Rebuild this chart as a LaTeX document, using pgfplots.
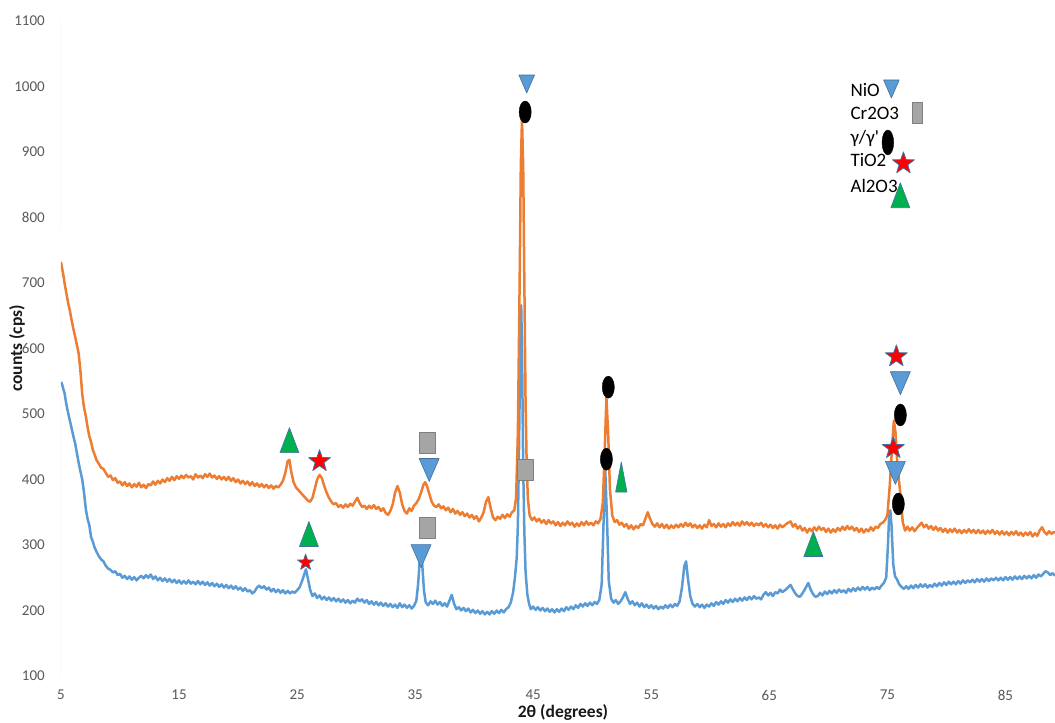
\documentclass[border=0pt]{standalone}
\usepackage{fontspec}
\setmainfont{Carlito}
\usepackage{pgfplots}
\usepackage{pgfplotstable}
\pgfplotsset{compat=1.18}
\definecolor{xorange}{HTML}{ED7D31}
\definecolor{xblue}{HTML}{5B9BD5}
\definecolor{xblueedge}{HTML}{41719C}
\definecolor{xgreen}{HTML}{00B050}
\definecolor{xgray}{HTML}{A5A5A5}
\definecolor{xgrayedge}{HTML}{7F7F7F}
\definecolor{tickgray}{HTML}{595959}
\definecolor{axgray}{HTML}{D0D0D0}

\pgfdeclareplotmark{dtri}{%
 \pgfpathmoveto{\pgfqpoint{-0.87\pgfplotmarksize}{\pgfplotmarksize}}%
 \pgfpathlineto{\pgfqpoint{0.87\pgfplotmarksize}{\pgfplotmarksize}}%
 \pgfpathlineto{\pgfqpoint{0pt}{-\pgfplotmarksize}}%
 \pgfpathclose\pgfusepathqfillstroke}
\pgfdeclareplotmark{utri}{%
 \pgfpathmoveto{\pgfqpoint{-0.76\pgfplotmarksize}{-\pgfplotmarksize}}%
 \pgfpathlineto{\pgfqpoint{0.76\pgfplotmarksize}{-\pgfplotmarksize}}%
 \pgfpathlineto{\pgfqpoint{0pt}{\pgfplotmarksize}}%
 \pgfpathclose\pgfusepathqfillstroke}
\pgfdeclareplotmark{rrect}{%
 \pgfsetcornersarced{\pgfqpoint{3bp}{3bp}}%
 \pgfpathrectanglecorners{\pgfqpoint{-0.76\pgfplotmarksize}{-\pgfplotmarksize}}{\pgfqpoint{0.76\pgfplotmarksize}{\pgfplotmarksize}}%
 \pgfusepathqfillstroke}
\pgfdeclareplotmark{ellip}{%
 \pgfpathellipse{\pgfpointorigin}{\pgfqpoint{0.55\pgfplotmarksize}{0pt}}{\pgfqpoint{0pt}{\pgfplotmarksize}}%
 \pgfusepathqfillstroke}
\pgfdeclareplotmark{fstar}{%
 \pgfpathmoveto{\pgfqpoint{0pt}{1.05\pgfplotmarksize}}%
 \pgfpathlineto{\pgfqpoint{-0.2351\pgfplotmarksize}{0.3736\pgfplotmarksize}}%
 \pgfpathlineto{\pgfqpoint{-0.9511\pgfplotmarksize}{0.359\pgfplotmarksize}}%
 \pgfpathlineto{\pgfqpoint{-0.3804\pgfplotmarksize}{-0.0736\pgfplotmarksize}}%
 \pgfpathlineto{\pgfqpoint{-0.5878\pgfplotmarksize}{-0.759\pgfplotmarksize}}%
 \pgfpathlineto{\pgfqpoint{0pt}{-0.35\pgfplotmarksize}}%
 \pgfpathlineto{\pgfqpoint{0.5878\pgfplotmarksize}{-0.759\pgfplotmarksize}}%
 \pgfpathlineto{\pgfqpoint{0.3804\pgfplotmarksize}{-0.0736\pgfplotmarksize}}%
 \pgfpathlineto{\pgfqpoint{0.9511\pgfplotmarksize}{0.359\pgfplotmarksize}}%
 \pgfpathlineto{\pgfqpoint{0.2351\pgfplotmarksize}{0.3736\pgfplotmarksize}}%
 \pgfpathclose\pgfusepathqfillstroke}

\pgfplotstableread{
x y
5.0 732
5.1 722
5.2 712
5.3 700
5.45 685
5.6 670
5.75 658
5.9 643
6.05 630
6.2 618
6.35 605
6.5 592
6.65 565
6.8 530
6.95 510
7.1 497
7.25 480
7.4 466
7.55 457
7.7 445
7.85 438
8.0 430
8.2 424
8.4 418
8.6 416
8.8 410
9.0 404
9.2 406
9.4 399
9.6 402
9.8 395
10.0 397
10.2 391
10.4 396
10.6 390
10.8 394
11.0 388
11.2 393
11.4 389
11.6 395
11.8 388
12.0 392
12.2 387
12.4 393
12.6 391
12.8 397
13.0 392
13.2 398
13.4 394
13.6 400
13.8 396
14.0 402
14.2 398
14.4 404
14.6 399
14.8 405
15.0 401
15.2 406
15.4 402
15.6 407
15.8 403
16.0 405
16.2 400
16.4 408
16.6 403
16.8 406
17.0 402
17.2 408
17.4 404
17.6 409
17.8 403
18.0 406
18.2 401
18.4 405
18.6 400
18.8 404
19.0 399
19.2 404
19.4 398
19.6 402
19.8 396
20.0 400
20.2 394
20.4 398
20.6 393
20.8 397
21.0 391
21.2 396
21.4 390
21.6 394
21.8 389
22.0 393
22.2 388
22.4 392
22.6 387
22.8 391
23.0 386
23.2 390
23.4 388
23.6 392
23.8 398
24.0 410
24.2 428
24.35 430
24.5 412
24.7 396
24.9 388
25.1 384
25.3 380
25.5 376
25.7 372
25.9 368
26.1 366
26.3 372
26.5 386
26.7 400
26.9 407
27.1 402
27.3 390
27.5 380
27.7 372
27.9 366
28.1 362
28.3 364
28.5 358
28.7 361
28.9 357
29.1 362
29.3 358
29.5 363
29.7 360
29.9 366
30.1 372
30.3 364
30.5 358
30.7 360
30.9 355
31.1 360
31.3 356
31.5 361
31.7 355
31.9 358
32.1 352
32.3 356
32.5 349
32.7 346
32.9 352
33.1 362
33.3 380
33.5 390
33.7 380
33.9 362
34.1 352
34.3 348
34.5 356
34.7 352
34.9 360
35.1 364
35.3 370
35.5 380
35.7 392
35.85 396
36.0 390
36.2 378
36.4 366
36.6 360
36.8 358
37.0 362
37.2 356
37.4 359
37.6 353
37.8 357
38.0 350
38.2 355
38.4 348
38.6 352
38.8 346
39.0 350
39.2 344
39.4 348
39.6 342
39.8 346
40.0 340
40.2 344
40.4 336
40.6 342
40.8 350
41.0 366
41.2 373
41.4 356
41.6 342
41.8 338
42.0 343
42.2 340
42.4 346
42.6 341
42.8 347
43.0 343
43.2 350
43.4 353
43.55 372
43.7 470
43.85 700
43.95 880
44.05 950
44.15 880
44.25 700
44.35 520
44.45 420
44.55 370
44.7 345
44.9 338
45.1 342
45.3 336
45.5 340
45.7 334
45.9 338
46.1 332
46.3 338
46.5 333
46.7 336
46.9 330
47.1 335
47.3 329
47.5 334
47.7 330
47.9 336
48.1 331
48.3 334
48.5 328
48.7 333
48.9 329
49.1 335
49.3 330
49.5 336
49.7 331
49.9 334
50.1 330
50.3 336
50.5 333
50.7 340
50.9 365
51.05 440
51.2 525
51.35 470
51.5 385
51.7 345
51.9 335
52.1 338
52.3 331
52.5 334
52.7 328
52.9 332
53.1 325
53.3 330
53.5 324
53.7 329
53.9 326
54.1 332
54.3 330
54.5 340
54.7 350
54.9 340
55.1 332
55.3 328
55.5 333
55.7 327
55.9 332
56.1 326
56.3 331
56.5 325
56.7 330
56.9 326
57.1 331
57.3 327
57.5 332
57.7 328
57.9 334
58.1 329
58.3 333
58.5 327
58.7 331
58.9 326
59.1 330
59.3 325
59.5 331
59.7 327
59.9 338
60.1 329
60.3 332
60.5 327
60.7 333
60.9 328
61.1 332
61.3 327
61.5 333
61.7 329
61.9 335
62.1 330
62.3 334
62.5 329
62.7 336
62.9 331
63.1 335
63.3 330
63.5 334
63.7 329
63.9 333
64.1 330
64.3 334
64.5 328
64.7 332
64.9 327
65.1 331
65.3 326
65.5 330
65.7 325
65.9 331
66.1 327
66.5 333
66.8 336
67.0 328
67.2 332
67.4 325
67.6 329
67.8 322
68.0 326
68.2 319
68.4 325
68.6 321
68.8 327
69.0 322
69.2 328
69.4 323
69.6 326
69.8 320
70.0 325
70.2 319
70.4 324
70.6 320
70.8 326
71.0 322
71.2 328
71.4 323
71.6 329
71.8 324
72.0 328
72.2 322
72.4 326
72.6 320
72.8 325
73.0 319
73.2 324
73.4 321
73.6 327
73.8 322
74.0 328
74.2 326
74.4 332
74.6 334
74.8 338
75.0 345
75.2 390
75.4 450
75.55 490
75.7 470
75.85 420
76.0 395
76.15 370
76.3 335
76.5 322
76.7 328
76.9 322
77.1 327
77.3 321
77.5 326
77.7 330
77.9 334
78.1 327
78.3 331
78.5 325
78.7 329
78.9 323
79.1 328
79.3 322
79.5 326
79.7 320
79.9 325
80.1 319
80.3 324
80.5 320
80.7 325
80.9 319
81.1 323
81.3 318
81.5 323
81.7 319
81.9 324
82.1 319
82.3 323
82.5 318
82.7 323
82.9 318
83.1 322
83.3 317
83.5 322
83.7 318
83.9 323
84.1 317
84.3 321
84.5 316
84.7 321
84.9 316
85.1 320
85.3 315
85.5 320
85.7 316
85.9 321
86.1 315
86.3 319
86.5 314
86.7 319
86.9 315
87.1 320
87.3 313
87.5 318
87.7 314
87.9 322
88.1 327
88.3 320
88.5 316
88.7 321
88.9 317
89.1 320
89.2 318
}\orangedata

\pgfplotstableread{
x y
5.0 549
5.1 545
5.2 538
5.3 532
5.45 515
5.6 502
5.75 490
5.9 478
6.05 466
6.2 455
6.35 440
6.5 425
6.65 412
6.8 400
6.95 380
7.1 355
7.25 340
7.4 330
7.55 312
7.7 305
7.85 296
8.0 290
8.2 283
8.4 278
8.6 275
8.8 268
9.0 264
9.2 262
9.4 258
9.6 260
9.8 254
10.0 256
10.2 250
10.4 253
10.6 248
10.8 252
11.0 247
11.2 251
11.4 246
11.6 250
11.8 253
12.0 249
12.2 254
12.4 250
12.6 255
12.8 248
13.0 252
13.2 246
13.4 250
13.6 245
13.8 249
14.0 244
14.2 248
14.4 243
14.6 247
14.8 242
15.0 246
15.2 241
15.4 245
15.6 241
15.8 246
16.0 241
16.2 244
16.4 240
16.6 245
16.8 240
17.0 244
17.2 239
17.4 243
17.6 238
17.8 242
18.0 237
18.2 241
18.4 236
18.6 240
18.8 235
19.0 239
19.2 234
19.4 238
19.6 233
19.8 237
20.0 232
20.2 235
20.4 230
20.6 234
20.8 229
21.0 231
21.2 226
21.4 229
21.6 235
21.8 238
22.0 234
22.2 237
22.4 232
22.6 235
22.8 229
23.0 233
23.2 228
23.4 232
23.6 227
23.8 231
24.0 226
24.2 230
24.4 226
24.6 229
24.8 227
25.0 231
25.2 235
25.4 244
25.6 255
25.75 263
25.9 250
26.1 232
26.3 222
26.5 226
26.7 219
26.9 223
27.1 217
27.3 221
27.5 216
27.7 220
27.9 215
28.1 219
28.3 214
28.5 218
28.7 213
28.9 217
29.1 212
29.3 216
29.5 211
29.7 215
29.9 212
30.1 218
30.3 214
30.5 217
30.7 212
30.9 216
31.1 210
31.3 214
31.5 209
31.7 213
31.9 208
32.1 212
32.3 207
32.5 211
32.7 206
32.9 210
33.1 205
33.3 209
33.5 204
33.7 211
33.9 205
34.1 209
34.3 204
34.5 208
34.7 203
34.9 207
35.1 215
35.25 240
35.4 280
35.5 290
35.6 270
35.75 230
35.9 212
36.1 208
36.3 214
36.5 210
36.7 215
36.9 209
37.1 213
37.3 207
37.5 211
37.7 206
37.9 215
38.1 224
38.3 210
38.5 202
38.7 205
38.9 200
39.1 204
39.3 199
39.5 203
39.7 197
39.9 201
40.1 196
40.3 200
40.5 195
40.7 199
40.9 194
41.1 198
41.3 194
41.5 199
41.7 195
41.9 200
42.1 196
42.3 201
42.5 197
42.7 202
42.9 205
43.1 212
43.3 228
43.45 250
43.6 280
43.7 330
43.8 450
43.9 600
43.98 666
44.05 600
44.15 420
44.25 320
44.35 260
44.5 225
44.65 210
44.8 202
45.0 206
45.2 201
45.4 205
45.6 200
45.8 204
46.0 199
46.2 203
46.4 198
46.6 202
46.8 197
47.0 202
47.2 198
47.4 203
47.6 199
47.8 205
48.0 201
48.2 206
48.4 202
48.6 208
48.8 204
49.0 210
49.2 206
49.4 211
49.6 207
49.8 212
50.0 208
50.2 213
50.4 210
50.6 216
50.8 240
50.95 330
51.1 415
51.25 340
51.4 245
51.6 218
51.8 212
52.0 216
52.2 210
52.4 214
52.6 220
52.8 228
53.0 218
53.2 210
53.4 214
53.6 208
53.8 212
54.0 206
54.2 211
54.4 205
54.6 209
54.8 204
55.0 208
55.2 203
55.4 207
55.6 202
55.8 206
56.0 203
56.2 208
56.4 204
56.6 209
56.8 205
57.0 210
57.2 207
57.4 214
57.6 235
57.8 268
57.95 275
58.1 250
58.3 222
58.5 210
58.7 206
58.9 210
59.1 205
59.3 209
59.5 204
59.7 209
59.9 206
60.1 211
60.3 207
60.5 213
60.7 209
60.9 214
61.1 210
61.3 216
61.5 212
61.7 217
61.9 213
62.1 218
62.3 214
62.5 219
62.7 215
62.9 220
63.1 216
63.3 221
63.5 217
63.7 222
63.9 218
64.1 220
64.3 217
64.5 224
64.7 228
64.9 223
65.1 227
65.3 222
65.5 228
65.7 226
65.9 232
66.1 228
66.4 232
66.8 239
67.0 232
67.2 226
67.4 222
67.6 221
67.8 226
68.0 232
68.3 242
68.5 232
68.7 225
68.9 221
69.1 222
69.3 227
69.5 223
69.7 229
69.9 225
70.1 230
70.3 226
70.5 231
70.7 227
70.9 232
71.1 228
71.3 231
71.5 227
71.7 233
71.9 229
72.1 234
72.3 230
72.5 235
72.7 231
72.9 236
73.1 232
73.3 236
73.5 231
73.7 235
73.9 232
74.1 236
74.3 233
74.5 238
74.7 242
74.9 250
75.05 300
75.15 345
75.25 353
75.35 330
75.5 270
75.65 252
75.8 248
76.0 240
76.2 236
76.4 233
76.6 237
76.8 233
77.0 238
77.2 234
77.4 239
77.6 235
77.8 240
78.0 236
78.2 240
78.4 235
78.6 239
78.8 236
79.0 241
79.2 237
79.4 242
79.6 238
79.8 243
80.0 239
80.2 244
80.4 240
80.6 244
80.8 240
81.0 245
81.2 241
81.4 246
81.6 242
81.8 246
82.0 243
82.2 247
82.4 243
82.6 248
82.8 244
83.0 248
83.2 244
83.4 249
83.6 245
83.8 249
84.0 246
84.2 250
84.4 246
84.6 250
84.8 246
85.0 251
85.2 247
85.4 251
85.6 247
85.8 252
86.0 248
86.2 252
86.4 248
86.6 253
86.8 249
87.0 253
87.2 249
87.4 254
87.6 250
87.8 255
88.0 252
88.2 256
88.4 260
88.6 258
88.8 254
89.0 257
89.2 253
}\bluedata

\begin{document}
\begin{tikzpicture}
\begin{axis}[
  at={(0,0)}, anchor=south west,
  scale only axis, width=994bp, height=655bp,
  xmin=5, xmax=89.2, ymin=100, ymax=1100,
  xtick={5,15,...,85}, ytick={100,200,...,1100},
  axis line style={draw=none},
  major tick length=0pt,
  /pgf/number format/assume math mode=true,
  /pgf/number format/1000 sep={},
  ticklabel style={font=\fontsize{15bp}{17bp}\selectfont, text=tickgray},
  yticklabel style={anchor=east, inner sep=0pt, xshift=-16bp},
  xticklabel style={anchor=north, inner sep=0pt, yshift=-14bp},
  every axis plot/.append style={line join=round},
]
% axis lines (Excel style, with gaps on the vertical one)
\draw[axgray, line width=1bp] (axis cs:5,100) -- (axis cs:89.2,100);
\draw[axgray, line width=1bp] (axis cs:5,1100) -- (axis cs:5,781);
\draw[axgray, line width=1bp] (axis cs:5,694.4) -- (axis cs:5,625.6);
\draw[axgray, line width=1bp] (axis cs:5,526.4) -- (axis cs:5,100);

\addplot[xblue, line width=2.5bp, no marks] table {\bluedata};
\addplot[xorange, line width=2.5bp, no marks] table {\orangedata};

% NiO (down triangles)
\addplot[only marks, mark=dtri, mark size=11.5bp, fill=xblue, draw=xblueedge, line width=0.6bp]
 coordinates {(36.19,414.5) (35.5,283) (76.1,547) (75.68,410)};
\addplot[only marks, mark=dtri, mark size=9bp, fill=xblue, draw=xblueedge, line width=0.6bp]
 coordinates {(44.45,1003.8) (75.34,996.2)};
% Cr2O3 (grey rounded rectangles)
\addplot[only marks, mark=rrect, mark size=10.5bp, fill=xgray, draw=xgrayedge, line width=0.6bp]
 coordinates {(36.0,455.7) (36.06,326.7) (44.32,414.5)};
\addplot[only marks, mark=rrect, mark size=10.5bp, mark options={xscale=0.65}, fill=xgray, draw=xgrayedge, line width=0.6bp]
 coordinates {(77.54,959.5)};
% gamma/gamma' (black ellipses)
\addplot[only marks, mark=ellip, mark size=11bp, fill=black, draw=black, line width=0.4bp]
 coordinates {(44.32,961) (51.36,541) (51.2,431) (76.1,498.5) (75.93,362.6)};
\addplot[only marks, mark=ellip, mark size=12.5bp, mark options={xscale=0.85}, fill=black, draw=black, line width=0.4bp]
 coordinates {(75.04,914.5)};
% TiO2 (red stars)
\addplot[only marks, mark=fstar, mark size=11.5bp, fill=red, draw=xblueedge, line width=0.8bp]
 coordinates {(26.9,427) (75.76,587) (75.5,447) (76.36,881.7)};
\addplot[only marks, mark=fstar, mark size=8.5bp, fill=red, draw=xblueedge, line width=0.7bp]
 coordinates {(25.72,272.5)};
% Al2O3 (green triangles)
\addplot[only marks, mark=utri, mark size=12.5bp, fill=xgreen, draw=xblueedge, line width=0.6bp]
 coordinates {(24.35,460) (26.0,316.8) (68.73,301.5) (76.1,834)};
\addplot[only marks, mark=utri, mark size=15bp, mark options={xscale=0.5}, fill=xgreen, draw=xblueedge, line width=0.6bp]
 coordinates {(52.46,403.8)};

% legend texts
\begin{scope}[every node/.style={anchor=base west, inner sep=0pt, font=\fontsize{19bp}{22bp}\selectfont, text=black}]
\node at (axis cs:71.86,984.0) {NiO};
\node at (axis cs:71.86,948.9) {Cr2O3};
\node at (axis cs:71.86,913.7) {γ/γ\textquotesingle};
\node at (axis cs:71.86,877.1) {TiO2};
\node at (axis cs:71.86,838.9) {Al2O3};
\end{scope}
\end{axis}
% axis titles
\node[anchor=base, inner sep=0pt, font=\bfseries\fontsize{17.5bp}{20bp}\selectfont, text=black!90]
 at (502bp,-41bp) {2θ (degrees)};
\node[anchor=base, rotate=90, inner sep=0pt, font=\bfseries\fontsize{17.5bp}{20bp}\selectfont, text=black!90]
 at (-39bp,327.5bp) {counts (cps)};
\pgfresetboundingbox
\path[use as bounding box] (-61bp,-47bp) rectangle (994bp,676bp);
\end{tikzpicture}
\end{document}
